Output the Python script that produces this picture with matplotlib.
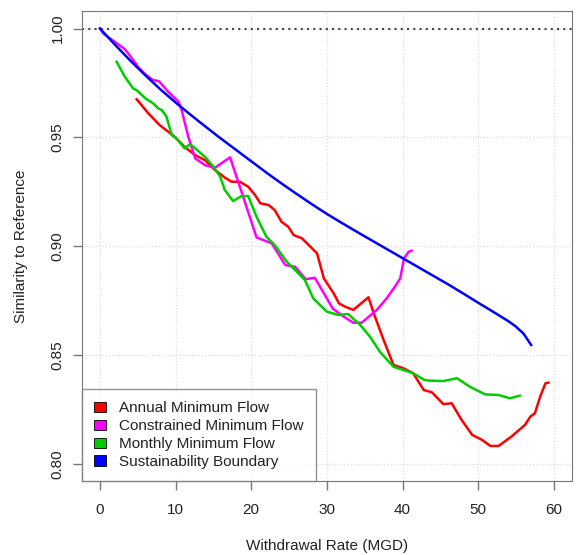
import matplotlib

matplotlib.use("Agg")
import matplotlib.pyplot as plt
from matplotlib.patches import Patch

plt.rcParams["font.family"] = ["Liberation Sans", "DejaVu Sans"]

# Sustainability boundary
blue_x = [0, 2, 4, 6, 8, 10, 12, 14, 16, 18, 20, 22, 24, 26, 28, 30, 32, 34, 36,
          38, 40, 42, 44, 46, 48, 50, 52, 54, 55, 56, 57]
blue_y = [1.000, 0.9925, 0.9853, 0.9785, 0.9720, 0.9660, 0.9603, 0.9548, 0.9494,
          0.9442, 0.939, 0.9338, 0.9288, 0.924, 0.9193, 0.9148, 0.9106, 0.9065,
          0.9025, 0.8985, 0.8945, 0.8905, 0.8865, 0.8825, 0.8783, 0.874, 0.8698,
          0.8655, 0.863, 0.8598, 0.8546]

# Annual minimum flow
red_x = [4.85, 6.4, 7.9, 9.9, 11.2, 12.6, 13.9, 15.2, 16.5, 17.4, 18.5, 19.6, 20.5,
         21.2, 22.3, 23.1, 24.0, 24.9, 25.6, 26.7, 27.6, 28.7, 29.6, 30.9, 31.6,
         32.4, 33.5, 35.5, 36.2, 37.5, 38.8, 40.1, 41.4, 42.8, 43.9, 45.4, 46.5,
         47.8, 49.2, 50.5, 51.6, 52.7, 54.4, 56.2, 56.9, 57.5, 58.2, 58.9, 59.3]
red_y = [0.9675, 0.961, 0.9556, 0.9502, 0.9456, 0.9418, 0.9395, 0.935, 0.9315,
         0.9296, 0.9296, 0.9273, 0.9235, 0.9197, 0.9189, 0.9166, 0.9112, 0.9089,
         0.9051, 0.9036, 0.9005, 0.8967, 0.8852, 0.8783, 0.8737, 0.8722, 0.8707,
         0.8765, 0.8691, 0.8569, 0.8454, 0.8439, 0.8416, 0.8339, 0.8328, 0.8274,
         0.8278, 0.8202, 0.8133, 0.811, 0.8082, 0.8082, 0.8125, 0.8179, 0.8217,
         0.8232, 0.8309, 0.837, 0.8373]

# Constrained minimum flow
mag_x = [0, 0.5, 2.0, 3.3, 4.3, 5.1, 6.0, 7.0, 7.8, 9.0, 10.4, 10.8, 11.7, 12.6,
         13.9, 15.2, 17.2, 19.0, 20.7, 22.7, 24.5, 25.8, 27.2, 28.4, 30.8, 32.4,
         33.5, 34.6, 36.6, 37.9, 39.0, 39.7, 40.2, 40.8, 41.2]
mag_y = [1.000, 0.9975, 0.9938, 0.9905, 0.986, 0.982, 0.979, 0.9763, 0.9758, 0.971,
         0.9663, 0.9625, 0.950, 0.9403, 0.9372, 0.936, 0.9408, 0.922, 0.904, 0.9013,
         0.8913, 0.8905, 0.8848, 0.8855, 0.8712, 0.8672, 0.8648, 0.8648, 0.8707,
         0.876, 0.8814, 0.8852, 0.8944, 0.8974, 0.8979]

# Monthly minimum flow
green_x = [2.2, 3.3, 4.4, 4.85, 6.0, 7.05, 7.7, 8.2, 8.8, 9.5, 10.1, 11.2, 11.9, 12.6,
           13.9, 15.0, 15.9, 16.5, 17.6, 18.7, 19.6, 20.7, 22.0, 23.1, 24.7, 25.8,
           27.1, 28.2, 30.0, 31.5, 32.8, 34.4, 35.7, 37.0, 38.8, 41.4, 42.9, 43.65,
           45.4, 47.2, 48.9, 50.9, 52.7, 54.2, 55.5]
green_y = [0.9847, 0.9778, 0.9724, 0.9717, 0.9679, 0.9656, 0.9633, 0.9625, 0.9594,
           0.951, 0.9495, 0.9449, 0.9469, 0.9449, 0.941, 0.9365, 0.9319, 0.9258,
           0.9207, 0.923, 0.923, 0.9135, 0.9043, 0.9005, 0.8928, 0.889, 0.8844,
           0.876, 0.8699, 0.8684, 0.8688, 0.8638, 0.8584, 0.8515, 0.8446, 0.8416,
           0.8385, 0.8382, 0.838, 0.8393, 0.8354, 0.8319, 0.8316, 0.8301, 0.8313]

labels = ["Annual Minimum Flow", "Constrained Minimum Flow",
          "Monthly Minimum Flow", "Sustainability Boundary"]
colors = ["#FF0000", "#FF00FF", "#00CD00", "#0000FF"]

x_ticks = [0, 10, 20, 30, 40, 50, 60]
y_ticks = [0.80, 0.85, 0.90, 0.95, 1.00]

fig = plt.figure(figsize=(5.76, 5.55), dpi=100)
ax = fig.add_axes([0.142, 0.133, 0.851, 0.847])

ax.set_xlim(-2.4, 62.4)
ax.set_ylim(0.792, 1.008)
ax.set_xticks(x_ticks)
ax.set_yticks(y_ticks)
ax.set_yticklabels(["%.2f" % v for v in y_ticks], rotation=90, va="center")
ax.grid(True, color="#dddddd", linestyle=":", linewidth=0.9)
ax.set_axisbelow(True)

ax.axhline(1.0, color="#444444", linestyle=(0, (1, 2)), linewidth=1.5, zorder=2)

lw = 1.8
ax.plot(red_x, red_y, color=colors[0], lw=lw, zorder=3)
ax.plot(mag_x, mag_y, color=colors[1], lw=lw, zorder=3)
ax.plot(green_x, green_y, color=colors[2], lw=lw, zorder=3)
ax.plot(blue_x, blue_y, color=colors[3], lw=lw, zorder=3)

for sp in ax.spines.values():
    sp.set_color("#777777")
ax.tick_params(axis="both", colors="#777777", labelcolor="#222222",
               labelsize=11, length=6.5, width=1)
ax.tick_params(axis="x", pad=9)
ax.tick_params(axis="y", pad=6)

ax.set_xlabel("Withdrawal Rate (MGD)", fontsize=11, color="#222222", labelpad=16)
ax.set_ylabel("Similarity to Reference", fontsize=11, color="#222222", labelpad=16)

handles = [Patch(facecolor=c, edgecolor="black", linewidth=0.6) for c in colors]
leg = ax.legend(handles, labels, loc="lower left", bbox_to_anchor=(0, 0),
                borderaxespad=0, fontsize=11, frameon=True, fancybox=False,
                handlelength=0.8, handleheight=0.65, handletextpad=0.85,
                labelspacing=0.26, borderpad=0.8)
leg.get_frame().set_edgecolor("#777777")
leg.get_frame().set_linewidth(1)
for t in leg.get_texts():
    t.set_color("#222222")

fig.savefig("out.png", dpi=100, facecolor="white")
